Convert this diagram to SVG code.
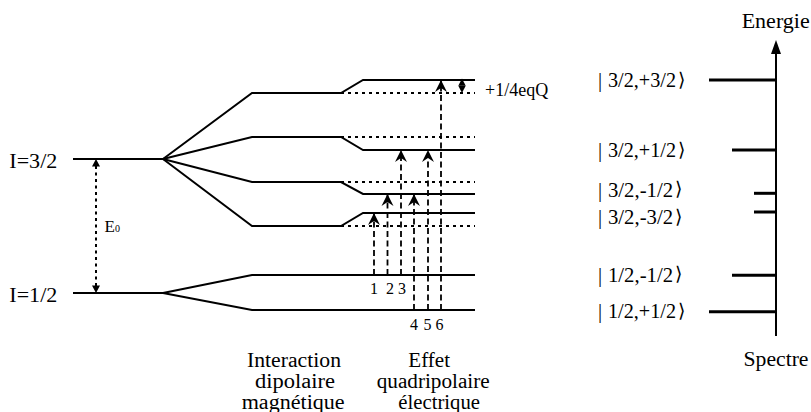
<svg xmlns="http://www.w3.org/2000/svg" width="811" height="412" viewBox="0 0 811 412">
<defs>
<style>
.lvl{fill:none;stroke:#000;stroke-width:2;}
.dot{fill:none;stroke:#000;stroke-width:1.8;stroke-dasharray:3 4;}
.trans{fill:none;stroke:#000;stroke-width:1.8;stroke-dasharray:6 3.5;}
.e0{fill:none;stroke:#000;stroke-width:2;stroke-dasharray:3 3.5;}
.spec{fill:none;stroke:#000;stroke-width:3;}
.axis{fill:none;stroke:#000;stroke-width:2;}
.head{fill:#000;stroke:none;}
.lbl{font-size:20px;}
.ket{font-size:20.5px;}
.num{font-size:16px;text-anchor:middle;}
</style>
<marker id="ah" viewBox="-13 -7 14 14" markerWidth="14" markerHeight="14" refX="0" refY="0" orient="auto" markerUnits="userSpaceOnUse"><path d="M0,0 L-12,-6 L-8,0 L-12,6 Z" fill="#000"/></marker>
</defs>

<g font-family="'Liberation Serif', 'Times New Roman', serif" fill="#000">
<!-- base levels -->
<g id="level-I32">
<path class="lvl" d="M73,159 H163"/>
<text class="lbl" x="9.3" y="167.5" textLength="48" lengthAdjust="spacingAndGlyphs">I=3/2</text>
</g>
<g id="level-I12">
<path class="lvl" d="M73,293 H163"/>
<text class="lbl" x="9.3" y="301.5" textLength="48" lengthAdjust="spacingAndGlyphs">I=1/2</text>
</g>

<!-- magnetic splitting + quadrupolar -->
<g id="m32p32">
<path class="lvl" d="M163,159 L252,93 H341 L363,80 H475"/>
<path class="dot" d="M341,93 H475"/>
</g>
<g id="m32p12">
<path class="lvl" d="M163,159 L252,137 H341 L363,150 H475"/>
<path class="dot" d="M341,137 H475"/>
</g>
<g id="m32m12">
<path class="lvl" d="M163,159 L252,182 H341 L363,194 H475"/>
<path class="dot" d="M341,182 H475"/>
</g>
<g id="m32m32">
<path class="lvl" d="M163,159 L252,226 H341 L363,213 H475"/>
<path class="dot" d="M341,226 H475"/>
</g>
<g id="m12m12">
<path class="lvl" d="M163,293 L252,275 H475"/>
</g>
<g id="m12p12">
<path class="lvl" d="M163,293 L252,310 H475"/>
</g>

<!-- E0 -->
<g id="e0">
<path class="e0" d="M96,166 V286"/>
<path class="head" d="M96,159 L92,166.5 L100,166.5 Z"/>
<path class="head" d="M96,293 L92,285.5 L100,285.5 Z"/>
<text x="104.5" y="232" style="font-family:'Liberation Serif',serif;font-size:17px;fill:#000">E<tspan style="font-size:10px">0</tspan></text>
</g>

<!-- eqQ -->
<g id="eqQ">
<path class="head" d="M462,78.5 L458.3,85.8 L465.7,85.8 Z"/>
<path class="head" d="M462,93 L458.3,85.8 L465.7,85.8 Z"/>
<text x="485" y="95.5" style="font-family:'Liberation Serif',serif;font-size:18px;fill:#000">+1/4eqQ</text>
</g>

<!-- transitions -->
<g id="connectors">
<path class="trans" d="M374,275 V213" marker-end="url(#ah)"/>
<path class="trans" d="M387.5,275 V194" marker-end="url(#ah)"/>
<path class="trans" d="M401,275 V150" marker-end="url(#ah)"/>
<path class="trans" d="M414,310 V194" marker-end="url(#ah)"/>
<path class="trans" d="M428,310 V150" marker-end="url(#ah)"/>
<path class="trans" d="M441,310 V80" marker-end="url(#ah)"/>
</g>
<g id="trans-labels" style="font-family:'Liberation Serif',serif;font-size:16px;fill:#000" text-anchor="middle">
<text x="374" y="294">1</text>
<text x="390" y="294">2</text>
<text x="402" y="294">3</text>
<text x="414" y="330">4</text>
<text x="427.5" y="330">5</text>
<text x="439.5" y="330">6</text>
</g>

<!-- bottom captions -->
<g id="caption-mag">
<text class="lbl" x="247" y="367" textLength="94" lengthAdjust="spacingAndGlyphs">Interaction</text>
<text class="lbl" x="255" y="388" textLength="80" lengthAdjust="spacingAndGlyphs">dipolaire</text>
<text class="lbl" x="241.7" y="409" textLength="103" lengthAdjust="spacingAndGlyphs">magnétique</text>
</g>
<g id="caption-quad">
<text class="lbl" x="408.3" y="367" textLength="41.7" lengthAdjust="spacingAndGlyphs">Effet</text>
<text class="lbl" x="376.7" y="388" textLength="113" lengthAdjust="spacingAndGlyphs">quadripolaire</text>
<text class="lbl" x="398.3" y="409" textLength="81.7" lengthAdjust="spacingAndGlyphs">électrique</text>
</g>

<!-- spectrum -->
<g id="spectrum">
<path class="axis" d="M776,336 V52"/>
<path class="head" d="M776,40 L771,54 L781,54 Z"/>
<text class="lbl" x="741.7" y="28.3" textLength="68" lengthAdjust="spacingAndGlyphs">Energie</text>
<text class="lbl" x="743.5" y="366" textLength="65" lengthAdjust="spacingAndGlyphs">Spectre</text>
</g>
<g id="kets" style="font-family:'Liberation Serif',serif;font-size:20.5px;fill:#000">
<g id="line-32p32">
<path class="spec" d="M709,80 H776"/>
<text x="598" y="87.3">|</text><text x="608" y="87.3" textLength="68" lengthAdjust="spacingAndGlyphs">3/2,+3/2</text><text x="678" y="86" style="font-family:'DejaVu Sans',sans-serif;font-size:19px">⟩</text>
</g>
<g id="line-32p12">
<path class="spec" d="M732,150 H776"/>
<text x="598" y="157.3">|</text><text x="608" y="157.3" textLength="68" lengthAdjust="spacingAndGlyphs">3/2,+1/2</text><text x="678" y="156" style="font-family:'DejaVu Sans',sans-serif;font-size:19px">⟩</text>
</g>
<g id="line-32m12">
<path class="spec" d="M754,193.3 H776"/>
<text x="598" y="196.7">|</text><text x="608" y="196.7" textLength="65" lengthAdjust="spacingAndGlyphs">3/2,-1/2</text><text x="675" y="195.4" style="font-family:'DejaVu Sans',sans-serif;font-size:19px">⟩</text>
</g>
<g id="line-32m32">
<path class="spec" d="M754,212 H776"/>
<text x="598" y="224">|</text><text x="608" y="224" textLength="65" lengthAdjust="spacingAndGlyphs">3/2,-3/2</text><text x="675" y="222.7" style="font-family:'DejaVu Sans',sans-serif;font-size:19px">⟩</text>
</g>
<g id="line-12m12">
<path class="spec" d="M732,275.3 H776"/>
<text x="598" y="281.7">|</text><text x="608" y="281.7" textLength="65" lengthAdjust="spacingAndGlyphs">1/2,-1/2</text><text x="675" y="280.4" style="font-family:'DejaVu Sans',sans-serif;font-size:19px">⟩</text>
</g>
<g id="line-12p12">
<path class="spec" d="M709,311.7 H776"/>
<text x="598" y="318.3">|</text><text x="608" y="318.3" textLength="68" lengthAdjust="spacingAndGlyphs">1/2,+1/2</text><text x="678" y="317" style="font-family:'DejaVu Sans',sans-serif;font-size:19px">⟩</text>
</g>
</g>
</g>
</svg>
